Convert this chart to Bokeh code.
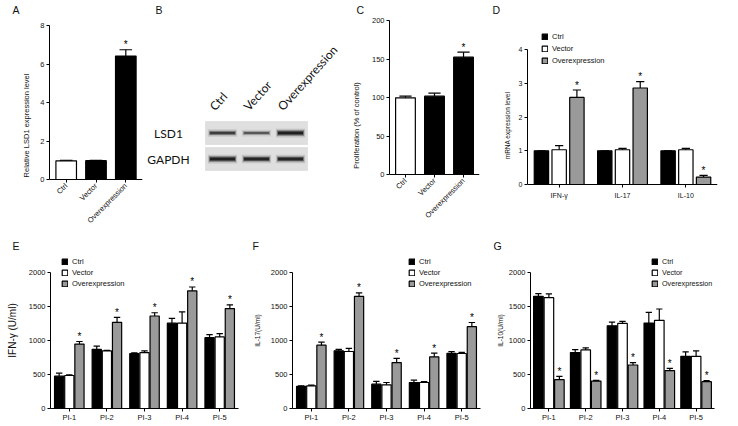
import math
from bokeh.plotting import figure
from bokeh.models import (ColumnDataSource, FactorRange, Range1d, Legend,
                          LegendItem, FixedTicker)
from bokeh.transform import dodge
from bokeh.layouts import row, column
from bokeh.embed import file_html
from bokeh.resources import INLINE
from bokeh.core.properties import value

FONT = "Liberation Sans"
BLOT_FONT = "Lato"
GREY = "#9a9a9a"

# ---------------- data ----------------
series = ["Ctrl", "Vector", "Overexpression"]

# A: relative LSD1 expression
a_groups = ["Ctrl", "Vector", "Overexpression"]
a_mean = [0.97, 0.98, 6.41]
a_upper = [1.00, 1.00, 6.74]
a_sig = [False, False, True]

# B: western blot (relative band intensity)
blot_lanes = ["Ctrl", "Vector", "Overexpression"]
blot_proteins = ["GAPDH", "LSD1"]
lsd1_band = [0.72, 0.55, 0.95]
gapdh_band = [0.95, 0.90, 0.90]

# C: proliferation (% of control)
c_groups = ["Ctrl", "Vector", "Overexpression"]
c_mean = [99.6, 101.7, 152.4]
c_upper = [101.7, 105.6, 158.9]
c_sig = [False, False, True]

# D: mRNA expression level
d_genes = ["IFN-γ", "IL-17", "IL-10"]
d_ctrl = [1.0, 1.0, 1.0]
d_ctrl_up = [1.0, 1.0, 1.0]
d_vector = [1.03, 1.03, 1.03]
d_vector_up = [1.15, 1.07, 1.07]
d_over = [2.58, 2.86, 0.22]
d_over_up = [2.80, 3.05, 0.27]

# E/F/G: cytokines (U/ml)
pi_groups = ["PI-1", "PI-2", "PI-3", "PI-4", "PI-5"]
e_ctrl = [475, 870, 806, 1255, 1042]
e_ctrl_up = [520, 918, 820, 1325, 1085]
e_vector = [485, 846, 822, 1255, 1052]
e_vector_up = [495, 856, 846, 1420, 1102]
e_over = [948, 1267, 1360, 1730, 1469]
e_over_up = [985, 1340, 1408, 1787, 1525]

f_ctrl = [324, 848, 358, 382, 812]
f_ctrl_up = [333, 870, 400, 417, 836]
f_vector = [333, 838, 348, 382, 809]
f_vector_up = [343, 884, 382, 397, 824]
f_over = [931, 1650, 676, 760, 1204]
f_over_up = [975, 1700, 738, 815, 1265]

g_ctrl = [1650, 823, 1217, 1256, 768]
g_ctrl_up = [1690, 867, 1271, 1414, 833]
g_vector = [1630, 862, 1251, 1296, 768]
g_vector_up = [1685, 892, 1281, 1463, 847]
g_over = [424, 404, 640, 557, 394]
g_over_up = [473, 414, 675, 591, 409]

SERIES_FILL = ["black", "white", GREY]

# layout constants (px)
TOP_B = 16          # common top border (title strip) of every figure
ROW1_H, ROW2_H = 236, 190
ROW1_BOTTOM = 2     # row-1 frames reach almost the bottom; x axes sit at y=0
ROW2_BOTTOM = 18    # common bottom border of row 2
STAR = "10px"


# ---------------- helpers ----------------
def make_fig(box, frame, x_range, y_range, letter, letter_x, **kw):
    ox, oy, w, h = box
    fl, ft, fw, fh = frame
    p = figure(width=w, height=h, x_range=x_range, y_range=y_range,
               min_border_left=fl - ox, min_border_top=ft - oy,
               min_border_right=ox + w - (fl + fw),
               min_border_bottom=oy + h - (ft + fh),
               output_backend="svg", toolbar_location=None, **kw)
    p.outline_line_color = None
    p.grid.visible = False
    p.background_fill_color = "white"
    p.border_fill_color = "white"
    p.title.text = letter
    p.title.align = "left"
    p.title.offset = letter_x - fl
    p.title.standoff = 2
    p.title.text_font = FONT
    p.title.text_font_size = "10.5px"
    p.title.text_font_style = "normal"
    p.title.text_color = "#111111"
    return p


def y_range_for(y0_px, ytop_px, top_val, frame_top, frame_bottom):
    ppu = (y0_px - ytop_px) / top_val
    return Range1d(-(frame_bottom - y0_px) / ppu, top_val + (ytop_px - frame_top) / ppu)


def style_axes(p, tick_font="7.5px"):
    for ax in p.axis:
        ax.axis_line_color = "black"
        ax.axis_line_width = 1
        ax.major_tick_line_color = "black"
        ax.major_tick_in = 0
        ax.major_tick_out = 3
        ax.minor_tick_line_color = None
        ax.major_label_text_font = FONT
        ax.major_label_text_font_size = tick_font
        ax.major_label_text_color = "#111111"
        ax.major_label_standoff = 2
        ax.axis_label_text_font = FONT
        ax.axis_label_text_font_style = "normal"
        ax.axis_label_text_color = "#111111"


def add_series(p, src, xcol, mcol, ucol, off, width, cap, fill,
               star_col=None, star_size=STAR):
    x = dodge(xcol, off, range=p.x_range)
    r = p.vbar(x=x, top=mcol, bottom=0, width=width, source=src,
               fill_color=fill, line_color="black", line_width=1.2)
    p.segment(x0=x, y0=mcol, x1=x, y1=ucol, source=src,
              line_color="black", line_width=1.2)
    p.segment(x0=dodge(xcol, off - cap / 2, range=p.x_range),
              x1=dodge(xcol, off + cap / 2, range=p.x_range),
              y0=ucol, y1=ucol, source=src, line_color="black",
              line_width=1.2)
    if star_col is not None:
        p.text(x=x, y=ucol, text=star_col, source=src, text_align="center",
               text_baseline="middle", y_offset=-5,
               text_font=value(FONT), text_font_size=star_size,
               text_color="black")
    return r


def add_legend(p, renderers, loc, spacing=2, size="7.5px"):
    items = [LegendItem(label=n, renderers=[r]) for n, r in zip(series, renderers)]
    leg = Legend(items=items, location=loc)
    leg.glyph_width = 7
    leg.glyph_height = 7
    leg.label_height = 7
    leg.label_width = 10
    leg.label_standoff = 4
    leg.spacing = spacing
    leg.padding = 0
    leg.margin = 0
    leg.border_line_color = None
    leg.background_fill_alpha = 0
    leg.label_text_font = FONT
    leg.label_text_font_size = size
    leg.label_text_color = "#111111"
    p.add_layout(leg)


R1_FT = TOP_B
R1_FB = ROW1_H - ROW1_BOTTOM            # 234
R2_FT = ROW1_H + TOP_B                  # 252
R2_FB = ROW1_H + ROW2_H - ROW2_BOTTOM   # 408

# ---------------- Panel A ----------------
padA = 0.06
pA = make_fig((0, 0, 146, ROW1_H), (49, R1_FT, 93, R1_FB - R1_FT),
              FactorRange(*a_groups, range_padding=padA, range_padding_units="absolute"),
              y_range_for(179, 25, 8, R1_FT, R1_FB), "A", 12)
srcA = ColumnDataSource(dict(g=a_groups, m=a_mean, u=a_upper,
                             star=["*" if s else "" for s in a_sig],
                             fill=["white", "black", "black"]))
add_series(pA, srcA, "g", "m", "u", 0.0, 0.69, 0.42, "fill", "star")
style_axes(pA)
pA.yaxis.ticker = FixedTicker(ticks=[0, 2, 4, 6, 8])
pA.yaxis.bounds = (0, 8)
pA.xaxis.fixed_location = 0
pA.xaxis.major_label_orientation = math.pi / 4
pA.yaxis.axis_label = "Relative LSD1 expression level"
pA.yaxis.axis_label_text_font_size = "7.5px"
pA.yaxis.axis_label_standoff = 6

# ---------------- Panel B (blot) ----------------
# frame covers the whole figure; lanes are 34 px apart, proteins 26 px apart
B_LEFT, B_W = 146, 202
bx0 = 0.5 - (222 - B_LEFT) / 34.0
by0 = 0.5 - (R1_FB - 158.5) / 26.0
pB = make_fig((B_LEFT, 0, B_W, ROW1_H), (B_LEFT, R1_FT, B_W, R1_FB - R1_FT),
              Range1d(bx0, bx0 + B_W / 34.0),
              Range1d(by0, by0 + (R1_FB - R1_FT) / 26.0), "B", 155,
              x_axis_location=None, y_axis_location=None)
lane_x = [i + 0.5 for i in range(len(blot_lanes))]
prot_y = [j + 0.5 for j in range(len(blot_proteins))]
pB.rect(x=[len(blot_lanes) / 2.0] * len(blot_proteins), y=prot_y,
        width=len(blot_lanes), height=0.88, fill_color="#dfdfdf",
        line_color="#d2d2d2", line_width=0.5)
band_i = gapdh_band + lsd1_band
srcB = ColumnDataSource(dict(
    x=lane_x * 2,
    y=[prot_y[0]] * len(blot_lanes) + [prot_y[1]] * len(blot_lanes),
    h1=[4 + 5 * v for v in band_i],
    h2=[2 + 3.5 * v for v in band_i],
    h3=[1 + 2.2 * v for v in band_i],
    a1=[0.22 * v for v in band_i],
    a2=[0.55 * v for v in band_i],
    a3=[0.9 * v for v in band_i]))
pB.rect(x="x", y="y", width=0.86, height="h1", height_units="screen",
        source=srcB, fill_color="#555555", fill_alpha="a1", line_color=None)
pB.rect(x="x", y="y", width=0.8, height="h2", height_units="screen",
        source=srcB, fill_color="#333333", fill_alpha="a2", line_color=None)
pB.rect(x="x", y="y", width=0.74, height="h3", height_units="screen",
        source=srcB, fill_color="#111111", fill_alpha="a3", line_color=None)
lab_y = prot_y[-1] + 0.44 + 8 / 26.0
pB.text(x=lane_x, y=[lab_y] * len(blot_lanes), text=blot_lanes,
        angle=math.radians(48), x_offset=-5, text_align="left",
        text_baseline="bottom", text_font=value(BLOT_FONT),
        text_font_size="12px", text_color="#111111")
prot_label_x = bx0 + (168 - B_LEFT) / 34.0
pB.text(x=[prot_label_x] * len(blot_proteins), y=prot_y, text=blot_proteins,
        text_align="center", text_baseline="middle",
        text_font=value(BLOT_FONT), text_font_size="12px",
        text_color="#111111")

# ---------------- Panel C ----------------
padC = 0.05
pC = make_fig((348, 0, 142, ROW1_H), (386, R1_FT, 93, R1_FB - R1_FT),
              FactorRange(*c_groups, range_padding=padC, range_padding_units="absolute"),
              y_range_for(174, 20, 200, R1_FT, R1_FB), "C", 353)
srcC = ColumnDataSource(dict(g=c_groups, m=c_mean, u=c_upper,
                             star=["*" if s else "" for s in c_sig],
                             fill=["white", "black", "black"]))
add_series(pC, srcC, "g", "m", "u", 0.0, 0.68, 0.42, "fill", "star")
style_axes(pC)
pC.yaxis.ticker = FixedTicker(ticks=[0, 50, 100, 150, 200])
pC.yaxis.bounds = (0, 200)
pC.xaxis.fixed_location = 0
pC.xaxis.major_label_orientation = math.pi / 4
pC.yaxis.axis_label = "Proliferation (% of control)"
pC.yaxis.axis_label_text_font_size = "7.5px"
pC.yaxis.axis_label_standoff = 8

# ---------------- Panel D ----------------
pD = make_fig((490, 0, 248, ROW1_H), (527, R1_FT, 190, R1_FB - R1_FT),
              FactorRange(*d_genes), y_range_for(184, 49, 4, R1_FT, R1_FB),
              "D", 492)
srcD = ColumnDataSource(dict(g=d_genes,
                             m0=d_ctrl, u0=d_ctrl_up,
                             m1=d_vector, u1=d_vector_up,
                             m2=d_over, u2=d_over_up,
                             star=["*"] * len(d_genes)))
offD = [-0.28, 0.0, 0.28]
rD = []
for k in range(3):
    rD.append(add_series(pD, srcD, "g", "m%d" % k, "u%d" % k, offD[k], 0.227,
                         0.13, SERIES_FILL[k], "star" if k == 2 else None))
style_axes(pD, "7px")
pD.yaxis.ticker = FixedTicker(ticks=[0, 1, 2, 3, 4])
pD.yaxis.bounds = (0, 4)
pD.xaxis.fixed_location = 0
pD.xaxis.major_label_standoff = 4
pD.yaxis.axis_label = "mRNA expression level"
pD.yaxis.axis_label_text_font_size = "6.5px"
pD.yaxis.axis_label_standoff = 5
add_legend(pD, rD, (14, R1_FB - 65), spacing=3, size="7.5px")


# ---------------- Panels E, F, G ----------------
def cyto_panel(box, frame, ctrl, ctrl_up, vec, vec_up, over, over_up,
               offs, width, ylabel, ylabel_size, ylabel_standoff, leg_x,
               letter, letter_x, leg_size="7.5px"):
    fl = frame[0]
    p = make_fig(box, frame, FactorRange(*pi_groups),
                 y_range_for(R2_FB, 272, 2000, R2_FT, R2_FB), letter, letter_x)
    src = ColumnDataSource(dict(g=pi_groups, m0=ctrl, u0=ctrl_up,
                                m1=vec, u1=vec_up, m2=over, u2=over_up,
                                star=["*"] * len(pi_groups)))
    rs = []
    for k in range(3):
        rs.append(add_series(p, src, "g", "m%d" % k, "u%d" % k, offs[k], width,
                             0.17, SERIES_FILL[k], "star" if k == 2 else None))
    style_axes(p)
    p.yaxis.ticker = FixedTicker(ticks=[0, 500, 1000, 1500, 2000])
    p.yaxis.bounds = (0, 2000)
    p.xaxis.major_label_standoff = 1
    p.yaxis.axis_label = ylabel
    p.yaxis.axis_label_text_font_size = ylabel_size
    p.yaxis.axis_label_standoff = ylabel_standoff
    add_legend(p, rs, (leg_x - fl, R2_FB - 288), size=leg_size)
    return p


H2 = R2_FB - R2_FT
pE = cyto_panel((0, ROW1_H, 247, ROW2_H), (50, R2_FT, 188, H2),
                e_ctrl, e_ctrl_up, e_vector, e_vector_up, e_over, e_over_up,
                [-0.27, 0.0, 0.27], 0.245, "IFN-γ (U/ml)", "10px", 8,
                61, "E", 12)
pF = cyto_panel((247, ROW1_H, 240, ROW2_H), (292, R2_FT, 188, H2),
                f_ctrl, f_ctrl_up, f_vector, f_vector_up, f_over, f_over_up,
                [-0.27, 0.0, 0.27], 0.245, "IL-17(U/ml)", "6.5px", 7,
                408, "F", 252)
pG = cyto_panel((487, ROW1_H, 251, ROW2_H), (530, R2_FT, 184, H2),
                g_ctrl, g_ctrl_up, g_vector, g_vector_up, g_over, g_over_up,
                [-0.285, 0.0, 0.285], 0.26, "IL-10(U/ml)", "6.5px", 2,
                651, "G", 493, leg_size="7.2px")

layout = column(row(pA, pB, pC, pD, spacing=0),
                row(pE, pF, pG, spacing=0), spacing=0)

open("out.html", "w").write(file_html(layout, INLINE))
